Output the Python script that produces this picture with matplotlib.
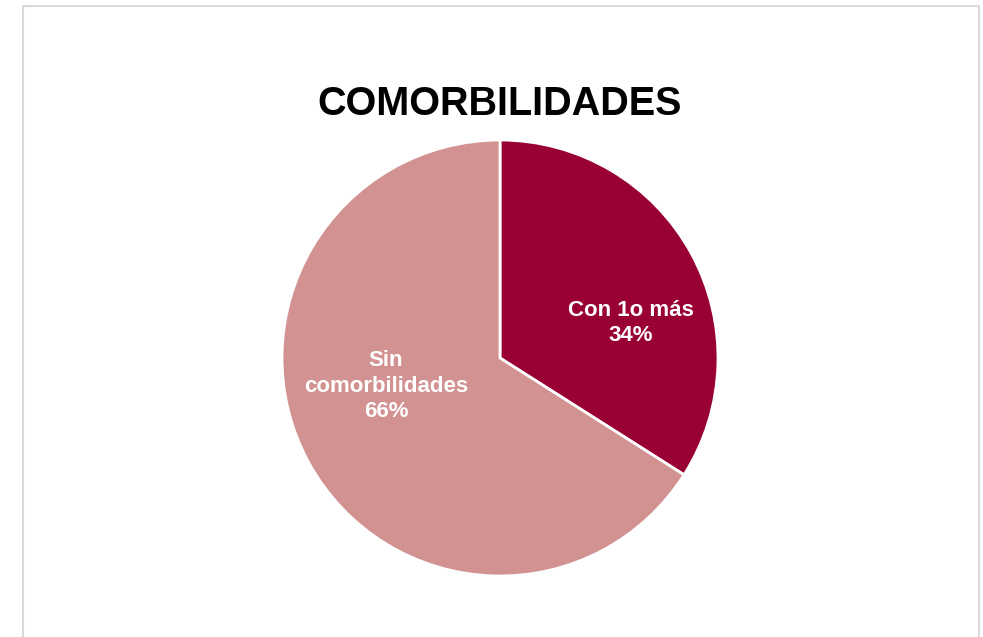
import matplotlib
matplotlib.use("Agg")
import matplotlib.pyplot as plt
from matplotlib.patches import Rectangle

categories = ["Con 1o más", "Sin\ncomorbilidades"]
values = [34, 66]
colors = ["#990033", "#D39292"]
title = "COMORBILIDADES"

W, H = 983, 637
fig = plt.figure(figsize=(W / 100, H / 100), dpi=100)
ax = fig.add_axes([0, 0, 1, 1])

# chart frame
ax.add_patch(Rectangle((22.5, -10), 956, H - 5.5 + 10, fill=False,
                       edgecolor="#D9D9D9", linewidth=1.5))

cx, cy, r = 500, H - 358, 218
wedges, _ = ax.pie(values, colors=colors, startangle=90, counterclock=False,
                   center=(cx, cy), radius=r, frame=True,
                   wedgeprops=dict(edgecolor="white", linewidth=2))
ax.set_xlim(0, W)
ax.set_ylim(0, H)
ax.set_aspect("equal")
ax.axis("off")

label_pos = [(631, H - 323), (386, H - 386)]
for cat, v, (x, y) in zip(categories, values, label_pos):
    ax.text(x, y, f"{cat}\n{v}%", ha="center", va="center", color="white",
            fontsize=16, fontweight="bold", family="Liberation Sans",
            linespacing=1.3)

ax.text(cx, H - 104, title, ha="center", va="center", color="black",
        fontsize=28.5, fontweight="bold", family="Liberation Sans")

fig.savefig("out.png", dpi=100)
